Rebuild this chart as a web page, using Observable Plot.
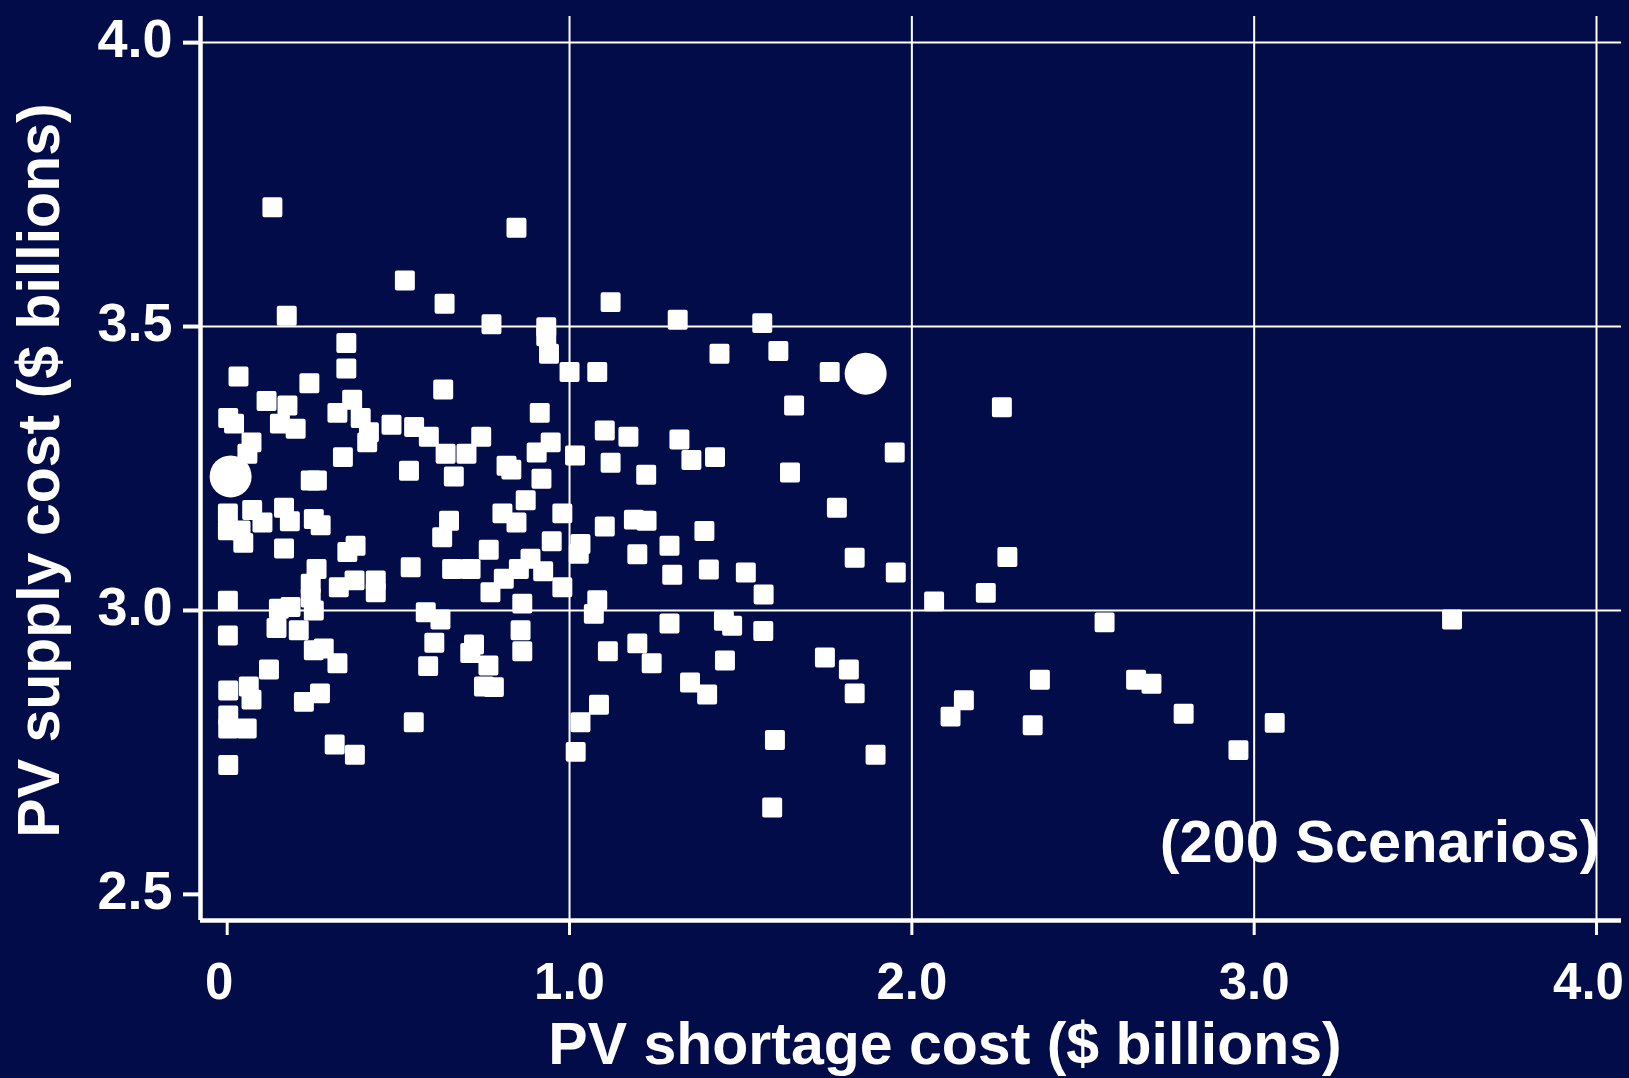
<!DOCTYPE html>
<html>
<head>
<meta charset="utf-8">
<script src="https://cdn.jsdelivr.net/npm/d3@7"></script>
<script src="https://cdn.jsdelivr.net/npm/@observablehq/plot@0.6"></script>
<style>
  html, body { margin: 0; padding: 0; background: #020c48; overflow: hidden; }
  #chart svg { display: block; }
</style>
</head>
<body>
<div id="chart"></div>
<script>
// ---- Data ----
// PV shortage cost ($ billions) of each scenario
const shortageCost = [
  0.132,0.845,0.519,0.635,0.174,0.772,0.932,0.932,0.940,1.000,0.348,0.348,0.033,0.240,0.631,0.115,0.176,0.365,0.322,0.913,0.003,0.390,
  1.120,1.316,1.563,1.438,1.610,1.081,1.760,1.656,
  0.020,0.154,0.200,0.414,0.409,0.480,0.546,0.589,0.742,0.945,0.904,1.016,0.071,0.059,0.338,0.638,0.699,0.531,0.662,0.244,0.262,0.816,
  0.830,0.918,0.872,0.979,0.804,0.845,0.648,0.628,0.948,1.032,1.027,0.764,0.886,0.923,0.852,0.808,0.769,0.979,0.862,0.657,0.711,0.536,
  0.002,0.002,0.039,0.047,0.073,0.103,0.166,0.183,0.253,0.273,0.166,0.351,0.375,0.261,0.244,0.326,0.372,0.434,0.434,0.002,0.151,0.185,
  0.244,0.253,0.144,0.209,0.002,
  0.580,0.623,0.857,1.081,1.071,
  1.103,1.172,1.321,1.120,1.224,1.356,1.425,1.950,1.644,1.781,1.103,1.188,1.225,1.394,1.198,1.292,1.300,1.407,1.515,1.567,1.833,1.953,
  2.065,1.292,1.451,1.475,1.566,
  0.253,0.282,0.322,0.122,0.003,0.063,0.071,0.271,0.224,0.003,0.003,0.057,0.003,0.314,0.373,0.605,0.587,0.721,0.710,0.763,0.750,0.779,
  0.862,0.545,1.032,1.018,
  1.198,1.112,1.240,1.454,1.352,1.402,1.746,1.816,1.833,1.086,1.600,1.894,1.592,2.152,2.113,
  2.263,2.279,2.216,2.563,3.578,2.374,2.655,2.700,2.353,2.794,3.060,2.954
];
// PV supply cost ($ billions) of each scenario (same order)
const supplyCost = [
  3.710,3.674,3.581,3.540,3.519,3.504,3.499,3.483,3.452,3.420,3.471,3.426,3.412,3.400,3.389,3.369,3.361,3.371,3.348,3.348,3.339,3.339,
  3.543,3.512,3.506,3.452,3.457,3.420,3.420,3.361,
  3.329,3.329,3.320,3.314,3.296,3.327,3.323,3.306,3.306,3.296,3.278,3.273,3.296,3.276,3.270,3.276,3.276,3.246,3.236,3.229,3.229,3.255,
  3.248,3.232,3.194,3.171,3.171,3.155,3.158,3.129,3.122,3.117,3.100,3.107,3.091,3.069,3.073,3.056,3.032,3.041,3.012,3.073,3.073,3.076,
  3.171,3.141,3.141,3.119,3.177,3.155,3.181,3.157,3.161,3.150,3.109,3.103,3.114,3.073,3.047,3.041,3.053,3.053,3.032,3.017,3.003,3.006,
  3.023,3.000,2.969,2.965,2.956,
  2.997,2.984,2.965,3.018,2.994,
  3.317,3.306,3.301,3.260,3.239,3.265,3.270,3.278,3.243,3.181,3.148,3.160,3.158,3.140,3.099,3.114,3.063,3.072,3.067,3.028,3.093,3.067,
  3.016,2.977,2.982,2.973,2.964,
  2.930,2.933,2.907,2.896,2.859,2.866,2.843,2.854,2.839,2.815,2.792,2.792,2.728,2.764,2.746,2.943,2.902,2.940,2.925,2.903,2.866,2.865,
  2.928,2.803,2.803,2.751,
  2.942,2.928,2.907,2.912,2.873,2.852,2.917,2.896,2.854,2.834,2.772,2.746,2.653,2.842,2.813,
  3.358,3.094,3.031,2.979,2.984,2.878,2.878,2.871,2.798,2.818,2.802,2.754
];
// Two highlighted scenarios (large circles)
const highlightShortage = [0.010, 1.865];
const highlightSupply = [3.236, 3.417];

// Axes
const xTicks = [0, 1, 2, 3, 4];
const xTicksInner = [1, 2, 3];
const xTicksOuter = [0, 4];
const yTicks = [2.5, 3, 3.5, 4];
const xGridValues = [1, 2, 3, 4];
const yGridValues = [3, 3.5, 4];
const xDomain = [-0.078, 4.073];
const yDomain = [2.454, 4.046];

// Texts
const xTitle = "PV shortage cost ($ billions)";
const yTitle = "PV supply cost ($ billions)";
const note = "(200 Scenarios)";

// ---- Build ----
const scenarios = shortageCost.map((x, i) => ({x, y: supplyCost[i]}));
const highlights = highlightShortage.map((x, i) => ({x, y: highlightSupply[i]}));
const fmt = d => d === 0 ? "0" : d.toFixed(1);
const blank = () => "";
const font = "'Liberation Sans', Arial, Helvetica, sans-serif";
const bg = "#020c48";
const xLabelStyle = {anchor: "bottom", tickSize: 0, tickPadding: 42, tickFormat: fmt, label: null,
  fontSize: 51, fontWeight: "bold", fill: "white"};

const chart = Plot.plot({
  width: 1629,
  height: 1078,
  marginLeft: 200,
  marginRight: 8,
  marginTop: 16,
  marginBottom: 158,
  style: {background: bg, color: "white", fontFamily: font, fontWeight: "bold", overflow: "visible"},
  x: {domain: xDomain, axis: null},
  y: {domain: yDomain, axis: null},
  marks: [
    Plot.gridX(xGridValues, {stroke: "white", strokeOpacity: 1, strokeWidth: 2}),
    Plot.gridY(yGridValues, {stroke: "white", strokeOpacity: 1, strokeWidth: 2}),
    Plot.ruleX([xDomain[0]], {stroke: "white", strokeWidth: 4.5}),
    Plot.ruleY([yDomain[0]], {stroke: "white", strokeWidth: 4.5}),
    // y ticks (marks only) and y tick labels
    Plot.axisY(yTicks, {anchor: "left", tickSize: 17, tickFormat: blank, label: null,
      stroke: "white", strokeWidth: 4}),
    Plot.axisY(yTicks, {anchor: "left", tickSize: 0, tickPadding: 28, tickFormat: fmt, label: null,
      fontSize: 54, fontWeight: "bold", fill: "white", dy: -3}),
    // x ticks (marks only) and x tick labels
    Plot.axisX(xTicks, {anchor: "bottom", tickSize: 15, tickFormat: blank, label: null,
      stroke: "white", strokeWidth: 3}),
    Plot.axisX(xTicksInner, xLabelStyle),
    Plot.axisX(xTicksOuter, {...xLabelStyle, dx: -8}),
    Plot.dot(scenarios, {x: "x", y: "y", symbol: "square", r: 9, fill: "white", stroke: "white",
      strokeWidth: 4, strokeLinejoin: "round"}),
    Plot.dot(highlights, {x: "x", y: "y", r: 21, fill: "white", stroke: "none"}),
    Plot.text([xTitle], {text: d => d, frameAnchor: "bottom", textAnchor: "middle", lineAnchor: "bottom",
      dx: 34, dy: 143, fontSize: 59, fontWeight: "bold", fill: "white"}),
    Plot.text([yTitle], {text: d => d, frameAnchor: "left", textAnchor: "middle", lineAnchor: "bottom",
      rotate: -90, dx: -142, dy: 2, fontSize: 59, fontWeight: "bold", fill: "white"}),
    Plot.text([note], {text: d => d, frameAnchor: "bottom-right", textAnchor: "end", lineAnchor: "bottom",
      dx: -22, dy: -59, fontSize: 59.5, fontWeight: "bold", fill: "white"})
  ]
});
document.getElementById("chart").appendChild(chart);
</script>
</body>
</html>
